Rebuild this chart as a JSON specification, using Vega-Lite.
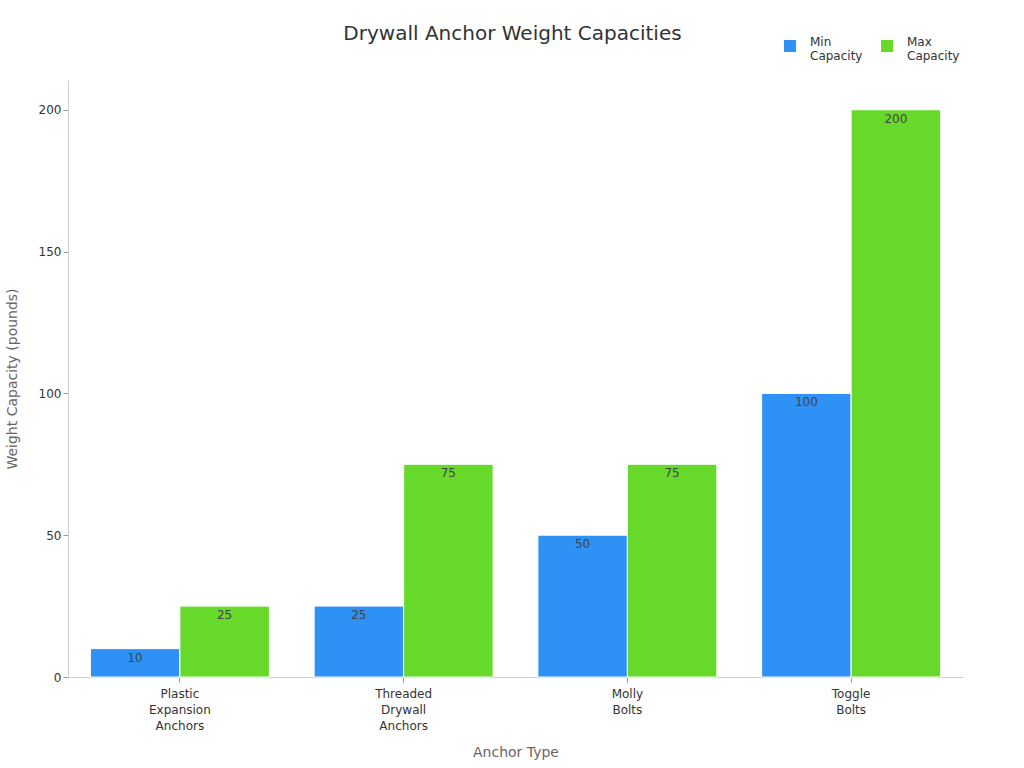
{
  "$schema": "https://vega.github.io/schema/vega-lite/v6.json",
  "width": 895,
  "height": 597,
  "autosize": {"type": "none"},
  "padding": {"left": 68, "top": 80, "right": 61, "bottom": 91},
  "background": "white",
  "config": {
    "font": "DejaVu Sans",
    "view": {"stroke": null},
    "axis": {"grid": false, "domainColor": "#cccccc", "tickColor": "#999999", "labelColor": "#333333", "labelFontSize": 12, "titleColor": "#666666", "titleFontSize": 14, "titleFontWeight": "normal"}
  },
  "title": {"text": "Drywall Anchor Weight Capacities", "fontSize": 20, "fontWeight": "normal", "color": "#333333", "offset": 0, "dy": 4, "dx": -3, "anchor": "middle"},
  "data": {
    "values": [
      {"anchor": "Plastic Expansion Anchors", "series": "Min Capacity", "value": 10},
      {"anchor": "Plastic Expansion Anchors", "series": "Max Capacity", "value": 25},
      {"anchor": "Threaded Drywall Anchors", "series": "Min Capacity", "value": 25},
      {"anchor": "Threaded Drywall Anchors", "series": "Max Capacity", "value": 75},
      {"anchor": "Molly Bolts", "series": "Min Capacity", "value": 50},
      {"anchor": "Molly Bolts", "series": "Max Capacity", "value": 75},
      {"anchor": "Toggle Bolts", "series": "Min Capacity", "value": 100},
      {"anchor": "Toggle Bolts", "series": "Max Capacity", "value": 200}
    ]
  },
  "encoding": {
    "x": {"field": "anchor", "type": "nominal", "sort": null,
      "scale": {"paddingInner": 0.2, "paddingOuter": 0.1},
      "axis": {"title": "Anchor Type", "labelAngle": 0, "labelExpr": "split(datum.label, ' ')", "labelPadding": 6, "titleY": 68, "tickSize": 5, "labelLineHeight": 16}},
    "xOffset": {"field": "series", "type": "nominal", "sort": ["Min Capacity", "Max Capacity"], "scale": {"paddingInner": 0, "paddingOuter": 0}},
    "y": {"field": "value", "type": "quantitative",
      "scale": {"domain": [0, 210.5], "nice": false},
      "axis": {"title": "Weight Capacity (pounds)", "values": [0, 50, 100, 150, 200], "tickSize": 5, "titleX": -49}}
  },
  "layer": [
    {
      "mark": {"type": "bar", "stroke": "white", "strokeWidth": 1},
      "encoding": {
        "color": {"field": "series", "type": "nominal", "sort": ["Min Capacity", "Max Capacity"],
          "scale": {"domain": ["Min Capacity", "Max Capacity"], "range": ["#2E91F5", "#66D92A"]},
          "legend": {"title": null, "orient": "none", "direction": "horizontal", "legendX": 716, "legendY": -40, "symbolType": "square", "symbolSize": 144, "labelExpr": "split(datum.label, ' ')", "labelFontSize": 12, "labelColor": "#333333", "labelOffset": 14, "labelBaseline": "alphabetic", "columnPadding": 18, "symbolStrokeWidth": 0}}
      }
    },
    {
      "mark": {"type": "text", "baseline": "top", "dy": 4, "fontSize": 12, "color": "#444444"},
      "encoding": {"text": {"field": "value", "type": "quantitative"}}
    }
  ]
}
